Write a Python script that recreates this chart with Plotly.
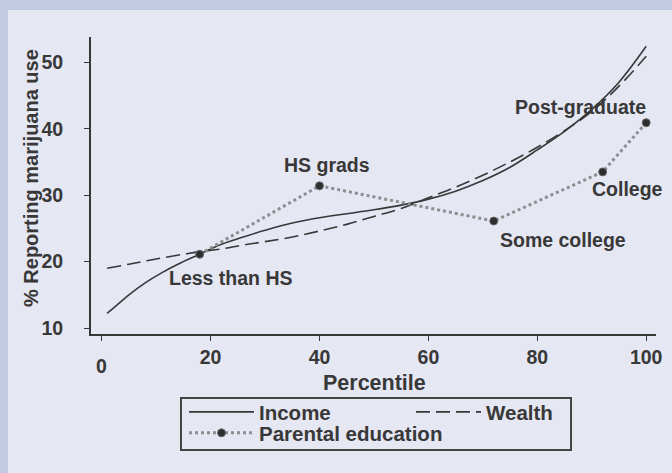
import plotly.graph_objects as go

# Smoothed prevalence by income percentile
income_pct = [1, 3, 5, 8, 11, 14, 18, 22, 26, 30, 35, 40, 45, 50, 55, 60,
              65, 70, 75, 80, 85, 90, 95, 100]
income_use = [12.2, 13.6, 15.0, 16.8, 18.3, 19.6, 21.1, 22.6, 23.7, 24.7, 25.8,
              26.6, 27.2, 27.8, 28.5, 29.4, 30.6, 32.2, 34.2, 36.8, 39.6, 42.9,
              47.0, 52.4]

# Smoothed prevalence by wealth percentile
wealth_pct = [1, 5, 10, 15, 18, 22, 26, 30, 35, 40, 45, 50, 55, 60, 65, 70,
              75, 80, 85, 90, 95, 100]
wealth_use = [19.0, 19.6, 20.4, 21.1, 21.5, 21.9, 22.5, 23.0, 23.7, 24.6, 25.6,
              26.8, 28.0, 29.6, 31.2, 33.0, 35.0, 37.2, 39.7, 42.6, 46.4, 50.9]

# Parental education groups placed at their percentile
edu_pct = [18, 40, 72, 92, 100]
edu_use = [21.1, 31.4, 26.1, 33.5, 40.9]
edu_names = ["Less than HS", "HS grads", "Some college", "College", "Post-graduate"]

x_ticks = [0, 20, 40, 60, 80, 100]
y_ticks = [10, 20, 30, 40, 50]

INK = "#383838"
FONT = "Liberation Sans, Arial, sans-serif"
OUTER = "#c3cbe3"
INNER = "#e5e7f3"


def bold(size):
    return dict(family=FONT, size=size, color=INK, weight="bold")


fig = go.Figure()
fig.add_trace(go.Scatter(
    x=income_pct, y=income_use, mode="lines", name="Income", legend="legend",
    line=dict(color=INK, width=1.6, shape="spline"),
))
fig.add_trace(go.Scatter(
    x=wealth_pct, y=wealth_use, mode="lines", name="Wealth", legend="legend2",
    line=dict(color=INK, width=1.6, shape="spline", dash="14px,6px"),
))
fig.add_trace(go.Scatter(
    x=edu_pct, y=edu_use, mode="lines+markers", name="Parental education",
    legend="legend3",
    line=dict(color="#8e8e8e", width=3, dash="dot"),
    marker=dict(color="#2e2e2e", size=8, line=dict(color="#6a6a6a", width=1)),
))

# label offsets (px) relative to each education point
offsets = [(31, -24), (8, 21), (69, -19), (25, -17), (-66, 16)]
annotations = []
for name, xv, yv, (dx, dy) in zip(edu_names, edu_pct, edu_use, offsets):
    annotations.append(dict(
        x=xv, y=yv, xref="x", yref="y", text=name, showarrow=False,
        xshift=dx, yshift=dy, font=bold(19.5),
    ))

# frame geometry in pixels
W, H, L, T, R, B = 672, 473, 91, 37, 16, 139
pw, ph = W - L - R, H - T - B


def px_x(p):
    return (p - L) / pw


def px_y(p):
    return (H - B - p) / ph


# the staggered "0" tick label
annotations.append(dict(
    x=0, y=0, xref="x", yref="paper", text="0", showarrow=False,
    yshift=-32, yanchor="middle", font=bold(19.5),
))
# axis titles
annotations.append(dict(
    x=px_x(31), y=px_y(178), xref="paper", yref="paper",
    text="% Reporting marijuana use", textangle=-90, showarrow=False,
    xanchor="center", yanchor="middle", font=bold(20),
))
annotations.append(dict(
    x=px_x(374), y=px_y(383), xref="paper", yref="paper",
    text="Percentile", showarrow=False, xanchor="center", yanchor="middle",
    font=bold(21.5),
))

shapes = [
    # frame strips along the top and left edges
    dict(type="rect", xref="paper", yref="paper", layer="below",
         x0=px_x(0), x1=px_x(8), y0=px_y(H), y1=px_y(0),
         fillcolor=OUTER, line=dict(width=0)),
    dict(type="rect", xref="paper", yref="paper", layer="below",
         x0=px_x(0), x1=px_x(W), y0=px_y(10), y1=px_y(0),
         fillcolor=OUTER, line=dict(width=0)),
    # legend box
    dict(type="rect", xref="paper", yref="paper", layer="above",
         x0=px_x(181), x1=px_x(571), y0=px_y(450), y1=px_y(398),
         line=dict(color="#444444", width=2), fillcolor="rgba(0,0,0,0)"),
]

legend_common = dict(
    orientation="h", xanchor="left", yanchor="middle",
    bgcolor="rgba(0,0,0,0)", borderwidth=0,
    font=bold(20.5), itemwidth=65, tracegroupgap=0,
)

fig.update_layout(
    width=W, height=H,
    margin=dict(l=L, r=R, t=T, b=B, pad=0, autoexpand=False),
    paper_bgcolor=INNER, plot_bgcolor=INNER,
    font=dict(family=FONT, color=INK),
    showlegend=True,
    legend=dict(x=px_x(184), y=px_y(412), **legend_common),
    legend2=dict(x=px_x(411), y=px_y(412), **legend_common),
    legend3=dict(x=px_x(184), y=px_y(433), **legend_common),
    xaxis=dict(
        range=[-1.96, 101.8], tickvals=x_ticks,
        ticktext=[""] + [str(v) for v in x_ticks[1:]],
        showgrid=False, zeroline=False, showline=True, linecolor=INK, linewidth=2,
        ticks="outside", ticklen=5, tickwidth=1, tickcolor=INK,
        tickfont=bold(19.5), ticklabelstandoff=0,
    ),
    yaxis=dict(
        range=[9.1, 53.8], tickvals=y_ticks,
        showgrid=False, zeroline=False, showline=True, linecolor=INK, linewidth=2,
        ticks="outside", ticklen=5, tickwidth=1, tickcolor=INK,
        tickfont=bold(19.5), ticklabelstandoff=17,
    ),
    annotations=annotations,
    shapes=shapes,
)

fig.write_html("out.html")
